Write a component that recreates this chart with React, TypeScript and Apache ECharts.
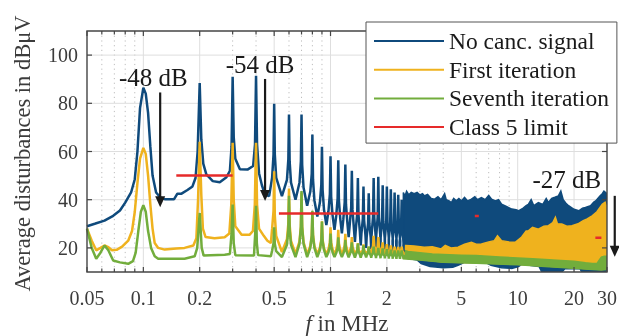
import { useEffect, useRef } from 'react';
import * as echarts from 'echarts';

const SERIF = '"Liberation Serif", "Times New Roman", serif';
const BLUE = '#0f4a7c';
const YELLOW = '#efb21e';
const GREEN = '#72ad3c';
const RED = '#e62a2a';

const X_MIN = 0.05, X_MAX = 30, Y_MIN = 10, Y_MAX = 110;
const xTickLabels = [0.05, 0.1, 0.2, 0.5, 1, 2, 5, 10, 20, 30];
const xMinorTicks = [0.06, 0.07, 0.08, 0.09, 0.3, 0.4, 0.6, 0.7, 0.8, 0.9, 3, 4, 6, 7, 8, 9];
const yTicks = [20, 40, 60, 80, 100];

const seriesNames = ['No canc. signal', 'First iteration', 'Seventh iteration', 'Class 5 limit'];

// low-frequency part (0.05 - 0.5 MHz), [f MHz, dBuV]
const blueLow = [
  [0.05, 29], [0.055, 30], [0.062, 31.3], [0.069, 33.3], [0.075, 35.5], [0.08, 38.8], [0.086, 43], [0.09, 48.5],
  [0.093, 60], [0.096, 78], [0.1, 86.5], [0.103, 84], [0.106, 76], [0.109, 62], [0.112, 50], [0.117, 43], [0.123, 41],
  [0.13, 40.2], [0.146, 40.2], [0.152, 42.5], [0.16, 42.5], [0.172, 44], [0.183, 45.5], [0.19, 49], [0.195, 60],
  [0.2, 88.4], [0.204, 65], [0.209, 55], [0.217, 50.5], [0.235, 47.7], [0.256, 47.2], [0.278, 49.3], [0.29, 52],
  [0.296, 62], [0.3, 91], [0.304, 66], [0.31, 57], [0.328, 52.6], [0.36, 52.5], [0.386, 54], [0.395, 63], [0.4, 91.4],
  [0.405, 63], [0.415, 51], [0.43, 46], [0.447, 42], [0.47, 41.5],
];
const yellowLow = [
  [0.05, 28], [0.053, 23], [0.056, 19], [0.059, 20], [0.062, 21], [0.065, 20.3], [0.068, 19], [0.072, 19.2],
  [0.077, 20.5], [0.083, 23], [0.087, 27], [0.09, 35], [0.093, 47], [0.096, 57], [0.1, 61.5], [0.103, 59], [0.106, 50],
  [0.109, 38], [0.112, 28], [0.115, 22], [0.12, 20], [0.13, 19.3], [0.15, 19.8], [0.166, 20], [0.185, 21], [0.192, 24],
  [0.196, 40], [0.2, 64], [0.204, 42], [0.208, 28], [0.215, 24.5], [0.24, 24], [0.272, 24.4], [0.288, 26], [0.295, 38],
  [0.3, 63.6], [0.304, 40], [0.31, 29], [0.335, 25.5], [0.37, 25.5], [0.385, 27], [0.394, 38], [0.4, 63.6], [0.405, 38],
  [0.415, 28], [0.44, 25], [0.46, 23], [0.48, 22],
];
const greenLow = [
  [0.05, 28], [0.053, 20], [0.056, 15.5], [0.059, 18], [0.062, 21], [0.065, 19], [0.069, 14.8], [0.075, 14],
  [0.083, 13.4], [0.088, 14.5], [0.091, 18], [0.094, 27], [0.097, 35], [0.1, 37.7], [0.103, 35], [0.106, 27], [0.11, 20],
  [0.115, 16.5], [0.12, 15.5], [0.166, 15.5], [0.188, 16.5], [0.194, 20], [0.2, 34.5], [0.205, 20], [0.21, 16.8],
  [0.272, 17.2], [0.29, 17.5], [0.296, 26], [0.3, 38], [0.304, 22], [0.31, 17], [0.39, 16.8], [0.396, 26], [0.4, 37.5],
  [0.404, 22], [0.41, 17], [0.48, 16.5],
];

// harmonics 0.5 ... 2.4 MHz: peak levels and the valley after each peak
const harmonics = [0.5, 0.6, 0.7, 0.8, 0.9, 1.0, 1.1, 1.2, 1.3, 1.4, 1.5, 1.6, 1.7, 1.8, 1.9, 2.0, 2.1, 2.2, 2.3, 2.4];
const bluePeaks = [79.8, 75.3, 75.3, 67, 62, 58, 56.4, 54.6, 52, 49, 45.5, 42.7, 49, 49.5, 46, 45.5, 44.3, 43, 42, 40];
const blueValleys = [41.5, 40, 37.5, 33, 29.5, 27.5, 26, 24.5, 22.5, 21, 20, 19.5, 19, 19, 18.5, 18.5, 18, 18, 18, 17.5];
const yellowPeaks = [51.8, 44.6, 43, 35, 31, 28.5, 27.5, 25.8, 24.5, 22, 21.5, 20.5, 25, 24.5, 22.3, 21.6, 21, 20.5, 20.4, 20.5];
const yellowValleys = [18.3, 17.5, 17.3, 17.3, 17.2, 17.2, 17.2, 17.2, 17.2, 17.2, 17.2, 17.2, 17.2, 17.2, 17.2, 17.2, 17.2, 17.2, 17.2, 17.2];
const greenPeaks = [28.5, 41.6, 43.6, 35.4, 30.9, 26, 24.4, 23.3, 22.3, 21.8, 21, 20.5, 20.5, 20, 19.8, 19.5, 19.3, 19, 19, 19];
const greenValleys = [16.2, 16.2, 16.2, 16.2, 16.2, 16.2, 16.2, 16.1, 16, 16, 16, 15.9, 15.8, 15.7, 15.6, 15.5, 15.5, 15.5, 15.5, 15.5];

// dense part (2.45 - 30 MHz): upper and lower envelopes
const blueBandTop = [
  [2.45, 43], [2.5, 41.5], [2.55, 43.5], [2.62, 42], [2.7, 43], [2.8, 42.5], [2.9, 43], [3.0, 42], [3.1, 42.5],
  [3.17, 41.6], [3.3, 42.2], [3.45, 40.5], [3.6, 40.2], [3.75, 41.2], [3.9, 40], [4.07, 42.5], [4.15, 40], [4.3, 39.5],
  [4.42, 38.8], [4.55, 40.5], [4.7, 39.5], [4.85, 40.5], [5.0, 39.5], [5.2, 41], [5.4, 39.5], [5.66, 40.2], [5.9, 41.2],
  [6.1, 40], [6.4, 40.9], [6.7, 40], [7.0, 41.8], [7.25, 40.2], [7.6, 39.5], [7.9, 40], [8.2, 38.1], [8.7, 37.2],
  [9.3, 36.1], [9.8, 35.8], [10.1, 35.4], [10.7, 36.5], [11.1, 37.5], [11.4, 38.1], [11.8, 40], [12.2, 37.5],
  [12.9, 38.8], [13.6, 38], [14.2, 40.5], [14.6, 38.8], [15.2, 40.5], [15.8, 41], [16.5, 41.6], [17.0, 43.6], [17.5, 40],
  [18.1, 38.5], [18.7, 37.5], [20, 36], [21.2, 35.4], [22.2, 36.5], [23, 36.8], [24.5, 37.5], [25.5, 39], [26.1, 39.5],
  [27.5, 41.5], [28.3, 42.5], [28.9, 43.6], [29.5, 43], [30, 42.5],
];
const blueBandBottom = [
  [2.45, 16], [2.9, 15], [3.05, 13.5], [3.4, 12.3], [4.0, 11.8], [4.5, 12], [4.8, 12.8], [5.2, 14], [6.8, 13.8],
  [7.2, 12.8], [8.2, 11.8], [9.3, 11.5], [10.1, 12.3], [10.5, 13.2], [13.0, 12.3], [13.4, 10.3], [14.5, 9.5], [17, 9.5],
  [17.9, 11.5], [21.5, 11.4], [22, 10], [23, 9], [28.8, 9], [29.5, 10.5], [30, 11],
];
const yellowBandTop = [
  [2.45, 21], [2.53, 21], [2.8, 20.8], [3.17, 20.3], [3.5, 20.5], [3.9, 19.6], [4.1, 21], [4.4, 20], [4.8, 20.3],
  [5.2, 21.5], [5.66, 22.3], [6.0, 21.5], [6.4, 21.6], [7.0, 22.5], [7.5, 23], [7.8, 25], [8.2, 23], [9.0, 22.5],
  [9.7, 22.3], [10.5, 24.5], [11.1, 27], [11.4, 27.1], [12.0, 28.5], [12.9, 27.8], [13.8, 29], [14.6, 29.2],
  [15.4, 30.5], [15.9, 32.7], [16.3, 30], [17.2, 29.9], [18.3, 29], [19.5, 29.2], [21, 30], [22.4, 31.3], [23.5, 32],
  [25, 33.3], [26.5, 35], [28.3, 38.1], [29.3, 39], [30, 36.8],
];
const yellowBandBottom = [
  [2.45, 15.8], [3, 15.2], [4, 14.2], [6, 13.8], [10, 13.2], [14, 12.5], [20, 11.8], [25, 11.2], [28, 11], [30, 11.2],
];
const greenBandTop = [
  [2.45, 19], [2.6, 18.5], [3, 18], [3.5, 17.5], [4, 17.3], [5, 17], [6, 16.8], [8, 16.2], [10, 15.8], [12, 15.5],
  [14, 15.2], [17, 14.8], [20, 14.5], [23, 13.8], [25, 13.5], [26.5, 13.5], [27.3, 15], [28, 16.2], [29, 16.5], [30, 16.5],
];
const greenBandBottom = [
  [2.45, 15.5], [3, 15], [4, 14], [6, 13.6], [10, 13], [14, 12.3], [20, 11.6], [25, 11], [28, 10.8], [30, 11],
];

// Class 5 limit segments
const limitSegments = [
  [[0.15, 50], [0.3, 50]],
  [[0.53, 34.3], [1.8, 34.3]],
  [[5.9, 33.2], [6.2, 33.2]],
  [[26, 24.2], [28, 24.2]],
];

// annotations: label position and arrow (data coordinates)
const annotations = [
  { text: '-48 dB', x: 0.113, y: 90.5, arrowX: 0.123, from: 84.5, to: 36.9 },
  { text: '-54 dB', x: 0.42, y: 95.9, arrowX: 0.447, from: 90.1, to: 39.5 },
  { text: '-27 dB', x: 18.3, y: 48.5, arrowX: 33, from: 41.6, to: 16.3 },
];

function harmonicLine(low: number[][], peaks: number[], valleys: number[]) {
  const pts = low.map((p) => [p[0], p[1]]);
  const prevValley = low[low.length - 1][1];
  harmonics.forEach((f, i) => {
    const left = i === 0 ? prevValley : valleys[i - 1];
    pts.push([f * 0.975, left + 0.2 * (peaks[i] - left)]);
    pts.push([f * 0.992, left + 0.45 * (peaks[i] - left)]);
    pts.push([f, peaks[i]]);
    pts.push([f * 1.008, valleys[i] + 0.45 * (peaks[i] - valleys[i])]);
    pts.push([f * 1.025, valleys[i] + 0.2 * (peaks[i] - valleys[i])]);
    if (i < harmonics.length - 1) pts.push([(f + harmonics[i + 1]) / 2, valleys[i]]);
    else pts.push([2.45, valleys[i]]);
  });
  return pts;
}

function bandSeries(name: string, top: number[][], bottom: number[][], color: string) {
  return {
    type: 'custom',
    name,
    data: top,
    clip: true,
    silent: true,
    encode: { x: 0, y: 1 },
    renderItem: (params: any, api: any) => {
      if (params.dataIndex !== 0) return null;
      const pts = top.map((p) => api.coord(p));
      for (let i = bottom.length - 1; i >= 0; i--) pts.push(api.coord(bottom[i]));
      return {
        type: 'polygon',
        shape: { points: pts },
        style: { fill: color, stroke: color, lineWidth: 1.5 },
      };
    },
  };
}

function lineSeries(name: string, data: number[][], color: string, width = 2.5) {
  return {
    type: 'line',
    name,
    data,
    symbol: 'none',
    showSymbol: false,
    lineStyle: { color, width },
    itemStyle: { color },
    animation: false,
  };
}

function buildGraphics(chart: any) {
  const pt = (x: number, y: number) => chart.convertToPixel({ gridIndex: 0 }, [x, y]);
  const [L, T] = pt(X_MIN, Y_MAX);
  const [R, B] = pt(X_MAX, Y_MIN);
  const xp = (v: number) => pt(v, Y_MIN)[0];
  const yp = (v: number) => pt(X_MIN, v)[1];
  const els: any[] = [];
  const text = (x: number, y: number, t: string, size: number, align: string, vAlign: string, fill: string, extra: any = {}) => ({
    type: 'text', x, y, z: 12, silent: true,
    style: {
      text: t, fontSize: size, fontFamily: SERIF, fill,
      align, verticalAlign: vAlign, textAlign: align, textVerticalAlign: vAlign, ...extra,
    },
  });

  xTickLabels.forEach((v) => {
    if (v > X_MIN && v < X_MAX) {
      els.push({ type: 'line', z: 0, silent: true, shape: { x1: xp(v), y1: T, x2: xp(v), y2: B }, style: { stroke: '#dedede', lineWidth: 1 } });
    }
  });
  xMinorTicks.forEach((v) => {
    els.push({ type: 'line', z: 0, silent: true, shape: { x1: xp(v), y1: T, x2: xp(v), y2: B }, style: { stroke: '#bdbdbd', lineWidth: 1, lineDash: [1.2, 3.5] } });
  });
  yTicks.forEach((v) => {
    els.push({ type: 'line', z: 0, silent: true, shape: { x1: L, y1: yp(v), x2: R, y2: yp(v) }, style: { stroke: '#dedede', lineWidth: 1 } });
  });

  const tickStyle = { stroke: '#454545', lineWidth: 1.2 };
  xTickLabels.forEach((v) => {
    const x = xp(v);
    els.push({ type: 'line', z: 11, silent: true, shape: { x1: x, y1: B, x2: x, y2: B - 5 }, style: tickStyle });
    els.push({ type: 'line', z: 11, silent: true, shape: { x1: x, y1: T, x2: x, y2: T + 5 }, style: tickStyle });
    els.push(text(x, B + 26, String(v), 20, 'center', 'middle', '#3c3c3c'));
  });
  xMinorTicks.forEach((v) => {
    const x = xp(v);
    els.push({ type: 'line', z: 11, silent: true, shape: { x1: x, y1: B, x2: x, y2: B - 3.5 }, style: tickStyle });
    els.push({ type: 'line', z: 11, silent: true, shape: { x1: x, y1: T, x2: x, y2: T + 3.5 }, style: tickStyle });
  });
  yTicks.forEach((v) => {
    const y = yp(v);
    els.push({ type: 'line', z: 11, silent: true, shape: { x1: L, y1: y, x2: L + 5, y2: y }, style: tickStyle });
    els.push({ type: 'line', z: 11, silent: true, shape: { x1: R, y1: y, x2: R - 5, y2: y }, style: tickStyle });
    els.push(text(L - 9, y, String(v), 20, 'right', 'middle', '#3c3c3c'));
  });

  els.push({ type: 'rect', z: 11, silent: true, shape: { x: L, y: T, width: R - L, height: B - T }, style: { fill: 'none', stroke: '#454545', lineWidth: 1.4 } });

  els.push(text((L + R) / 2, 323, '{i|f} in MHz', 23, 'center', 'middle', '#3c3c3c', {
    rich: { i: { fontStyle: 'italic', fontSize: 23, fontFamily: SERIF, fill: '#3c3c3c' } },
  }));
  els.push({
    type: 'text', x: 22, y: (T + B) / 2 + 2, rotation: Math.PI / 2, z: 12, silent: true,
    style: {
      text: 'Average disturbances in dBμV', fontSize: 22.5, fontFamily: SERIF, fill: '#3c3c3c',
      align: 'center', verticalAlign: 'middle', textAlign: 'center', textVerticalAlign: 'middle',
    },
  });

  annotations.forEach((a) => {
    const [tx, ty] = pt(a.x, a.y);
    els.push(text(tx, ty, a.text, 25, 'center', 'middle', '#1a1a1a'));
    const ax = pt(a.arrowX, a.from)[0];
    const y1 = pt(a.arrowX, a.from)[1];
    const tip = pt(a.arrowX, a.to)[1];
    els.push({ type: 'line', z: 12, silent: true, shape: { x1: ax, y1, x2: ax, y2: tip - 9 }, style: { stroke: '#1a1a1a', lineWidth: 2.2 } });
    els.push({ type: 'polygon', z: 12, silent: true, shape: { points: [[ax - 5, tip - 11], [ax + 5, tip - 11], [ax, tip]] }, style: { fill: '#1a1a1a' } });
  });
  return els;
}

export default function App() {
  const ref = useRef<HTMLDivElement>(null);
  useEffect(() => {
    if (!ref.current) return;
    const chart = echarts.init(ref.current, null, { renderer: 'svg', width: 619, height: 336 });
    const series: any[] = [
      lineSeries(seriesNames[0], harmonicLine(blueLow, bluePeaks, blueValleys), BLUE),
      bandSeries('blueBand', blueBandTop, blueBandBottom, BLUE),
      lineSeries(seriesNames[1], harmonicLine(yellowLow, yellowPeaks, yellowValleys), YELLOW),
      bandSeries('yellowBand', yellowBandTop, yellowBandBottom, YELLOW),
      lineSeries(seriesNames[2], harmonicLine(greenLow, greenPeaks, greenValleys), GREEN),
      bandSeries('greenBand', greenBandTop, greenBandBottom, GREEN),
      ...limitSegments.map((seg) => lineSeries(seriesNames[3], seg, RED, 2.5)),
    ];
    chart.setOption({
      animation: false,
      grid: { left: 87, right: 12, top: 31, bottom: 64, containLabel: false },
      xAxis: {
        type: 'log', logBase: 10, min: X_MIN, max: X_MAX,
        axisLine: { show: false }, axisTick: { show: false }, axisLabel: { show: false }, splitLine: { show: false },
      },
      yAxis: {
        type: 'value', min: Y_MIN, max: Y_MAX,
        axisLine: { show: false }, axisTick: { show: false }, axisLabel: { show: false }, splitLine: { show: false },
      },
      legend: {
        data: seriesNames,
        orient: 'vertical',
        left: 366,
        top: 22,
        z: 20,
        backgroundColor: '#ffffff',
        borderColor: '#555555',
        borderWidth: 1,
        borderRadius: 0,
        padding: [7, 8, 4, 7],
        itemWidth: 70,
        itemHeight: 24,
        itemGap: 4.7,
        selectedMode: false,
        itemStyle: { opacity: 0 },
        textStyle: { fontSize: 23.5, fontFamily: SERIF, color: '#1a1a1a', lineHeight: 24 },
      },
      series,
    });
    chart.setOption({ graphic: { elements: buildGraphics(chart) } });
    return () => chart.dispose();
  }, []);
  return <div ref={ref} style={{ position: 'fixed', left: 0, top: 0, width: 619, height: 336 }} />;
}
